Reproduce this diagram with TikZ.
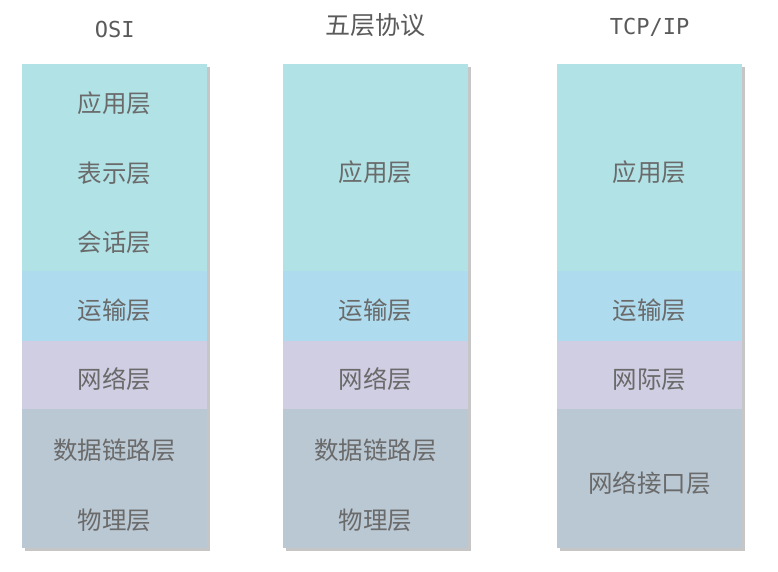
\documentclass[tikz,border=0pt]{standalone}
\usepackage{fontspec}
\newfontfamily\cjk{Noto Sans CJK SC}
\setmonofont{DejaVu Sans Mono}
\usetikzlibrary{shadows,positioning}

\definecolor{appcol}{HTML}{B1E2E6}
\definecolor{transcol}{HTML}{AEDBEE}
\definecolor{netcol}{HTML}{D0CEE3}
\definecolor{linkcol}{HTML}{BAC8D3}
\definecolor{txtcol}{HTML}{6A6A6A}
\definecolor{shadcol}{HTML}{C6C6C6}

\tikzset{
    layer/.style={anchor=north west, minimum width=185pt, inner sep=0pt,
        text=txtcol, font=\cjk\fontsize{24.5}{28}\selectfont,
        text height=27pt, text depth=0pt,
        drop shadow={shadow xshift=3pt, shadow yshift=-3pt, fill=shadcol, opacity=1}},
    app/.style={fill=appcol},
    trans/.style={fill=transcol},
    net/.style={fill=netcol},
    link/.style={fill=linkcol},
    coltitle/.style={text=txtcol!85!black, inner sep=0pt}
}

\begin{document}
\begin{tikzpicture}[x=1pt,y=-1pt]
    \useasboundingbox (0,0) rectangle (778,571);

    % OSI
    \foreach \top/\bot/\txt/\sty [count=\i] in {64/133/应用层/app, 133/205/表示层/app, 205/271/会话层/app, 271/341/运输层/trans, 341/409/网络层/net, 409/483/数据链路层/link, 483/548/物理层/link}
        \node[layer, \sty, minimum height=\bot-\top] (osi\i) at (22,\top) {\txt};

    % five layers
    \foreach \top/\bot/\txt/\sty [count=\i] in {64/271/应用层/app, 271/341/运输层/trans, 341/409/网络层/net, 409/483/数据链路层/link, 483/548/物理层/link}
        \node[layer, \sty, minimum height=\bot-\top] (five\i) at (283,\top) {\txt};

    % TCP/IP
    \foreach \top/\bot/\txt/\sty [count=\i] in {64/271/应用层/app, 271/341/运输层/trans, 341/409/网际层/net, 409/548/网络接口层/link}
        \node[layer, \sty, minimum height=\bot-\top] (tcp\i) at (557,\top) {\txt};

    \node[coltitle, font=\ttfamily\fontsize{22}{26}\selectfont] (osititle) at ([yshift=35pt]osi1.north) {OSI};
    \node[coltitle, font=\cjk\fontsize{25}{29}\selectfont] (fivetitle) at ([yshift=39pt]five1.north) {五层协议};
    \node[coltitle, font=\ttfamily\fontsize{22}{26}\selectfont] (tcptitle) at ([yshift=37pt]tcp1.north) {TCP/IP};
\end{tikzpicture}
\end{document}
